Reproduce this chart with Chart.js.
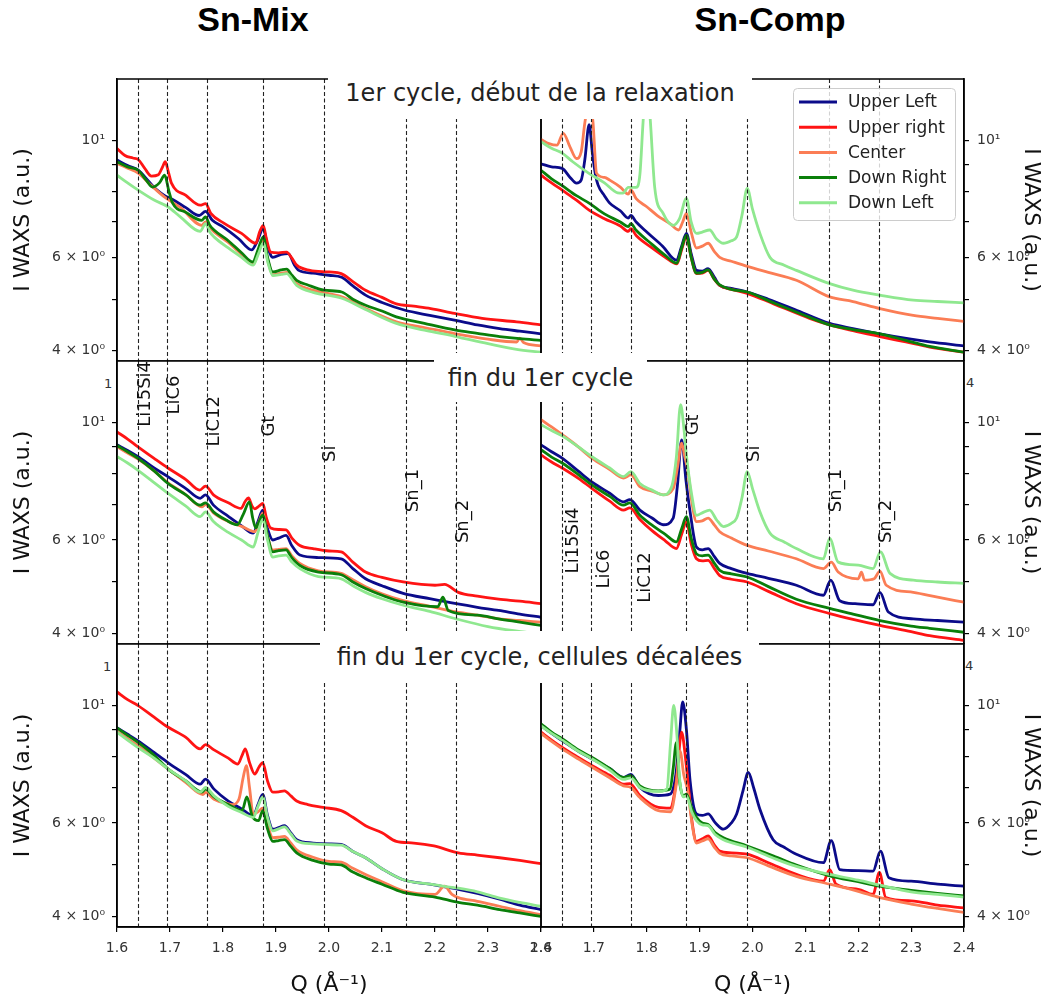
<!DOCTYPE html>
<html>
<head>
<meta charset="utf-8">
<script src="https://cdn.jsdelivr.net/npm/chart.js@4.4.1/dist/chart.umd.min.js"></script>
<style>
  body { margin: 0; background: #fff; width: 1044px; height: 999px; position: relative; overflow: hidden; }
  .head { position: absolute; top: 0; height: 46px; line-height: 46px; font: bold 34px "Liberation Sans", Arial, sans-serif; color: #000; text-align: center; }
  .ttl { position: absolute; background: #fff; z-index: 10; display: flex; align-items: center; justify-content: center;
         font: 24px "DejaVu Sans", sans-serif; color: #222; white-space: nowrap; }
  .bit { position: absolute; font: 13px "DejaVu Sans", sans-serif; color: #333; }
</style>
</head>
<body>
<div class="head" style="left:153px;width:200px">Sn-Mix</div>
<div class="head" style="left:660px;width:220px">Sn-Comp</div>
<div class="ttl" style="left:328px;top:66px;width:424px;height:53px">1er cycle, début de la relaxation</div>
<div class="ttl" style="left:434px;top:353px;width:213px;height:49px">fin du 1er cycle</div>
<div class="ttl" style="left:320px;top:631px;width:439px;height:52px">fin du 1er cycle, cellules décalées</div>
<div class="bit" style="left:104px;top:376px">1</div>
<div class="bit" style="left:966px;top:375px">4</div>
<div class="bit" style="left:103px;top:659px">1</div>
<div class="bit" style="left:965px;top:658px">4</div>

<script>
// series names and peak markers
const seriesNames = ["Upper Left", "Upper right", "Center", "Down Right", "Down Left"];
const seriesColors = ["#0b0b8a", "#ff1414", "#fb7d55", "#0a7f0a", "#8fe88f"];

const peakNames = ["Li15Si4", "LiC6", "LiC12", "Gt", "Si", "Sn_1", "Sn_2"];
const peakQ = [1.64, 1.695, 1.77, 1.875, 1.99, 2.145, 2.24];
// where the rotated peak names sit (Q of the text, intensity at the text foot)
const labelQMix = [1.64, 1.695, 1.77, 1.875, 1.99, 2.145, 2.24];
const labelIMix = [9.81, 10.34, 9.0, 9.4, 8.42, 6.77, 5.92];
const labelQComp = [1.647, 1.706, 1.785, 1.875, 1.99, 2.145, 2.24];
const labelIComp = [5.19, 4.86, 4.57, 9.45, 8.42, 6.77, 5.92];

const xTicks = [1.6, 1.7, 1.8, 1.9, 2.0, 2.1, 2.2, 2.3, 2.4];
const yTicks = [4, 5, 6, 7, 8, 9, 10];
const yTickText = { 4: "4 × 10⁰", 6: "6 × 10⁰", 10: "10¹" };

// ---- Sn-Mix, 1er cycle, debut de la relaxation
const mixA_UL = [[1.6,9.17],[1.62,8.95],[1.64,8.77],[1.66,8.35],[1.675,8.05],[1.69,7.85],[1.705,7.72],[1.73,7.45],[1.755,7.2],[1.767,7.33],[1.78,7.05],[1.8,6.85],[1.83,6.5],[1.854,6.2],[1.865,6.45],[1.876,6.81],[1.884,6.3],[1.894,6.0],[1.91,6.08],[1.923,6.1],[1.935,5.8],[1.943,5.67],[1.97,5.6],[2.0,5.55],[2.024,5.5],[2.045,5.3],[2.069,5.09],[2.1,4.93],[2.142,4.77],[2.19,4.66],[2.239,4.56],[2.28,4.47],[2.322,4.4],[2.36,4.35],[2.4,4.3]];
const mixA_UR = [[1.6,9.64],[1.615,9.35],[1.63,9.25],[1.64,9.19],[1.652,8.85],[1.665,8.55],[1.678,8.6],[1.686,8.9],[1.691,9.1],[1.697,8.7],[1.703,8.28],[1.73,7.86],[1.757,7.53],[1.767,7.58],[1.777,7.27],[1.803,6.95],[1.835,6.66],[1.862,6.38],[1.869,6.7],[1.876,6.9],[1.882,6.5],[1.89,6.14],[1.905,6.12],[1.92,6.14],[1.93,5.98],[1.939,5.8],[1.964,5.67],[2.0,5.63],[2.023,5.59],[2.045,5.4],[2.069,5.2],[2.1,5.04],[2.127,4.9],[2.16,4.85],[2.192,4.8],[2.237,4.7],[2.289,4.6],[2.354,4.53],[2.4,4.47]];
const mixA_C = [[1.6,9.03],[1.62,8.85],[1.64,8.66],[1.665,8.2],[1.69,7.8],[1.72,7.45],[1.76,6.9],[1.767,7.0],[1.78,6.75],[1.81,6.4],[1.835,6.08],[1.857,5.83],[1.867,6.15],[1.876,6.47],[1.885,5.9],[1.894,5.56],[1.91,5.6],[1.92,5.62],[1.939,5.35],[1.97,5.2],[2.024,5.05],[2.069,4.8],[2.127,4.53],[2.18,4.42],[2.239,4.3],[2.3,4.2],[2.354,4.15],[2.36,4.22],[2.367,4.14],[2.4,4.08]];
const mixA_DR = [[1.6,9.1],[1.62,8.9],[1.64,8.77],[1.655,8.4],[1.667,8.15],[1.68,8.3],[1.69,8.58],[1.698,8.0],[1.705,7.6],[1.73,7.3],[1.76,7.05],[1.767,7.16],[1.775,6.9],[1.783,6.76],[1.81,6.45],[1.835,6.12],[1.856,5.88],[1.866,6.2],[1.876,6.56],[1.884,6.0],[1.894,5.63],[1.91,5.68],[1.92,5.7],[1.93,5.55],[1.939,5.43],[1.96,5.32],[1.991,5.2],[2.024,5.16],[2.045,5.0],[2.069,4.87],[2.1,4.75],[2.127,4.63],[2.18,4.5],[2.239,4.37],[2.28,4.31],[2.322,4.25],[2.36,4.21],[2.4,4.18]];
const mixA_DL = [[1.6,8.58],[1.62,8.3],[1.64,8.04],[1.67,7.7],[1.696,7.48],[1.72,7.15],[1.757,6.72],[1.767,6.95],[1.775,6.7],[1.783,6.56],[1.81,6.25],[1.835,6.0],[1.857,5.8],[1.867,6.1],[1.876,6.38],[1.885,5.85],[1.894,5.54],[1.91,5.57],[1.92,5.59],[1.939,5.31],[1.97,5.15],[2.024,5.02],[2.069,4.78],[2.127,4.5],[2.18,4.37],[2.239,4.25],[2.3,4.12],[2.354,4.02],[2.4,3.97]];

// ---- Sn-Comp, 1er cycle, debut de la relaxation
const compA_UL = [[1.6,9.02],[1.62,8.9],[1.64,8.84],[1.655,8.5],[1.667,8.29],[1.676,8.4],[1.683,9.2],[1.691,10.7],[1.697,9.5],[1.703,8.6],[1.708,8.22],[1.72,7.85],[1.73,7.6],[1.75,7.35],[1.765,7.12],[1.77,7.2],[1.78,7.0],[1.8,6.7],[1.83,6.3],[1.856,5.93],[1.866,6.3],[1.875,6.66],[1.884,6.1],[1.894,5.67],[1.905,5.65],[1.916,5.71],[1.928,5.5],[1.938,5.31],[1.96,5.24],[1.99,5.16],[2.03,5.0],[2.08,4.78],[2.146,4.5],[2.19,4.4],[2.241,4.3],[2.3,4.2],[2.335,4.15],[2.4,4.08]];
const compA_UR = [[1.6,8.58],[1.62,8.3],[1.64,8.04],[1.667,7.7],[1.691,7.37],[1.72,7.1],[1.75,6.88],[1.765,6.72],[1.77,6.8],[1.78,6.6],[1.81,6.25],[1.835,6.0],[1.857,5.83],[1.866,6.2],[1.875,6.56],[1.884,6.0],[1.894,5.59],[1.905,5.6],[1.916,5.67],[1.928,5.45],[1.938,5.31],[1.96,5.22],[1.99,5.13],[2.04,4.9],[2.108,4.6],[2.146,4.47],[2.19,4.36],[2.241,4.25],[2.29,4.15],[2.335,4.06],[2.4,3.97]];
const compA_C = [[1.6,10.03],[1.615,9.85],[1.63,9.78],[1.642,10.3],[1.655,9.7],[1.667,9.23],[1.676,9.5],[1.683,10.8],[1.69,11.6],[1.698,10.9],[1.705,8.66],[1.72,8.5],[1.73,8.4],[1.75,8.15],[1.765,7.9],[1.77,8.05],[1.78,7.75],[1.8,7.48],[1.82,7.2],[1.844,6.95],[1.86,6.76],[1.868,7.0],[1.875,7.27],[1.884,6.7],[1.894,6.25],[1.905,6.3],[1.916,6.38],[1.928,6.15],[1.938,6.0],[1.96,5.9],[1.99,5.77],[2.03,5.62],[2.083,5.43],[2.146,5.05],[2.19,4.95],[2.241,4.8],[2.304,4.66],[2.35,4.6],[2.4,4.54]];
const compA_DR = [[1.6,8.77],[1.62,8.45],[1.64,8.2],[1.667,7.85],[1.691,7.6],[1.72,7.25],[1.75,7.0],[1.765,6.86],[1.77,6.95],[1.78,6.75],[1.81,6.35],[1.835,6.05],[1.857,5.85],[1.866,6.25],[1.875,6.6],[1.884,6.0],[1.894,5.6],[1.905,5.62],[1.916,5.68],[1.928,5.45],[1.938,5.32],[1.96,5.22],[1.99,5.16],[2.04,4.92],[2.108,4.62],[2.146,4.47],[2.19,4.38],[2.241,4.3],[2.29,4.18],[2.335,4.07],[2.4,3.97]];
const compA_DL = [[1.6,9.93],[1.62,9.65],[1.64,9.45],[1.66,9.1],[1.69,8.66],[1.72,8.3],[1.745,7.95],[1.755,7.94],[1.765,8.14],[1.78,8.14],[1.787,8.6],[1.793,10.8],[1.8,13.5],[1.807,10.8],[1.815,8.15],[1.831,7.27],[1.85,6.9],[1.862,7.1],[1.875,7.76],[1.884,7.0],[1.894,6.66],[1.905,6.7],[1.919,6.76],[1.932,6.5],[1.945,6.38],[1.96,6.45],[1.97,6.56],[1.98,7.2],[1.99,8.1],[2.0,7.4],[2.014,6.66],[2.033,6.0],[2.06,5.8],[2.083,5.67],[2.146,5.35],[2.19,5.2],[2.241,5.09],[2.304,4.98],[2.35,4.95],[2.4,4.92]];

// ---- Sn-Mix, fin du 1er cycle
const mixB_UL = [[1.6,9.07],[1.62,8.85],[1.639,8.62],[1.67,8.2],[1.696,7.9],[1.73,7.5],[1.757,7.19],[1.767,7.3],[1.782,6.98],[1.81,6.65],[1.835,6.38],[1.857,6.18],[1.866,6.5],[1.875,6.83],[1.884,6.3],[1.894,6.0],[1.905,6.05],[1.919,6.12],[1.93,5.85],[1.945,5.62],[1.98,5.56],[2.023,5.53],[2.045,5.3],[2.069,5.07],[2.1,4.92],[2.14,4.76],[2.19,4.65],[2.24,4.55],[2.28,4.48],[2.32,4.42],[2.36,4.35],[2.4,4.29]];
const mixB_UR = [[1.6,9.59],[1.62,9.3],[1.639,9.0],[1.67,8.55],[1.696,8.2],[1.73,7.8],[1.756,7.45],[1.767,7.58],[1.782,7.3],[1.81,7.05],[1.834,6.88],[1.842,7.1],[1.848,7.2],[1.855,6.95],[1.86,6.87],[1.868,6.95],[1.875,7.03],[1.882,6.6],[1.89,6.32],[1.905,6.28],[1.919,6.27],[1.93,6.05],[1.945,5.86],[1.97,5.78],[2.0,5.72],[2.023,5.7],[2.045,5.45],[2.069,5.22],[2.1,5.1],[2.14,5.0],[2.2,4.93],[2.218,4.95],[2.244,4.78],[2.28,4.7],[2.32,4.64],[2.36,4.6],[2.4,4.55]];
const mixB_C = [[1.6,9.0],[1.62,8.75],[1.639,8.53],[1.67,8.1],[1.696,7.7],[1.73,7.3],[1.76,6.93],[1.767,7.0],[1.782,6.75],[1.81,6.5],[1.836,6.36],[1.86,6.22],[1.868,6.5],[1.875,6.74],[1.884,6.1],[1.894,5.74],[1.905,5.76],[1.919,5.78],[1.93,5.6],[1.945,5.42],[1.98,5.25],[2.023,5.19],[2.045,5.05],[2.069,4.9],[2.1,4.75],[2.14,4.61],[2.19,4.5],[2.24,4.39],[2.28,4.33],[2.32,4.26],[2.36,4.23],[2.4,4.2]];
const mixB_DR = [[1.6,9.04],[1.62,8.8],[1.639,8.56],[1.67,8.1],[1.696,7.67],[1.73,7.3],[1.757,6.98],[1.767,7.05],[1.782,6.78],[1.805,6.55],[1.827,6.41],[1.838,6.7],[1.85,7.08],[1.856,6.6],[1.862,6.32],[1.868,6.5],[1.875,6.68],[1.884,6.1],[1.894,5.7],[1.905,5.73],[1.919,5.75],[1.93,5.55],[1.945,5.37],[1.98,5.22],[2.023,5.16],[2.045,5.0],[2.069,4.86],[2.1,4.72],[2.14,4.58],[2.205,4.49],[2.215,4.68],[2.225,4.42],[2.28,4.33],[2.32,4.26],[2.36,4.2],[2.4,4.14]];
const mixB_DL = [[1.6,8.62],[1.62,8.38],[1.639,8.13],[1.67,7.7],[1.696,7.35],[1.73,6.95],[1.757,6.64],[1.767,6.78],[1.782,6.5],[1.81,6.2],[1.835,6.0],[1.857,5.82],[1.866,6.2],[1.875,6.56],[1.884,6.0],[1.894,5.57],[1.905,5.6],[1.919,5.62],[1.93,5.45],[1.945,5.3],[1.98,5.12],[2.023,5.07],[2.045,4.92],[2.069,4.78],[2.1,4.65],[2.14,4.52],[2.19,4.4],[2.24,4.26],[2.3,4.12],[2.37,4.02],[2.4,3.98]];

// ---- Sn-Comp, fin du 1er cycle
const compB_UL = [[1.6,9.07],[1.62,8.8],[1.64,8.56],[1.67,8.1],[1.696,7.72],[1.73,7.35],[1.756,7.08],[1.768,7.15],[1.787,6.83],[1.81,6.6],[1.831,6.41],[1.85,6.6],[1.858,7.6],[1.866,9.27],[1.874,7.8],[1.882,6.78],[1.894,5.82],[1.905,5.75],[1.916,5.78],[1.928,5.58],[1.938,5.42],[1.96,5.3],[1.99,5.19],[2.03,5.08],[2.083,4.93],[2.134,4.72],[2.148,5.04],[2.165,4.61],[2.194,4.55],[2.228,4.53],[2.241,4.78],[2.257,4.39],[2.304,4.26],[2.35,4.23],[2.4,4.2]];
const compB_UR = [[1.6,8.68],[1.62,8.42],[1.64,8.2],[1.67,7.85],[1.696,7.51],[1.73,7.1],[1.756,6.83],[1.768,6.9],[1.787,6.56],[1.81,6.25],[1.835,5.98],[1.856,5.78],[1.866,6.15],[1.875,6.5],[1.884,5.9],[1.894,5.53],[1.905,5.48],[1.916,5.49],[1.928,5.3],[1.938,5.14],[1.96,5.06],[1.99,5.0],[2.03,4.8],[2.083,4.55],[2.146,4.36],[2.19,4.25],[2.241,4.14],[2.3,4.03],[2.335,3.96],[2.4,3.88]];
const compB_C = [[1.6,10.12],[1.62,9.8],[1.64,9.48],[1.67,9.0],[1.696,8.56],[1.73,8.15],[1.756,7.85],[1.77,7.96],[1.787,7.56],[1.81,7.42],[1.831,7.3],[1.85,7.5],[1.858,8.2],[1.866,9.14],[1.872,8.6],[1.878,8.07],[1.886,7.0],[1.894,6.5],[1.905,6.52],[1.916,6.6],[1.928,6.4],[1.938,6.22],[1.96,6.05],[1.99,5.86],[2.03,5.72],[2.083,5.53],[2.134,5.3],[2.149,5.45],[2.162,5.22],[2.2,5.07],[2.206,5.22],[2.212,5.04],[2.23,5.07],[2.241,5.24],[2.253,4.93],[2.304,4.78],[2.35,4.68],[2.4,4.58]];
const compB_DR = [[1.6,8.88],[1.62,8.6],[1.64,8.38],[1.67,7.98],[1.696,7.62],[1.73,7.25],[1.756,6.98],[1.768,7.05],[1.787,6.68],[1.81,6.4],[1.835,6.15],[1.856,5.95],[1.866,6.3],[1.875,6.64],[1.884,6.05],[1.894,5.65],[1.905,5.6],[1.916,5.62],[1.928,5.42],[1.938,5.26],[1.96,5.18],[1.99,5.11],[2.03,4.9],[2.083,4.64],[2.146,4.46],[2.19,4.35],[2.241,4.23],[2.3,4.13],[2.335,4.09],[2.4,4.02]];
const compB_DL = [[1.6,9.9],[1.62,9.65],[1.64,9.43],[1.67,9.0],[1.696,8.62],[1.73,8.2],[1.756,7.9],[1.77,8.07],[1.787,7.67],[1.81,7.45],[1.831,7.3],[1.847,7.56],[1.856,8.6],[1.864,10.8],[1.87,9.8],[1.875,8.68],[1.885,7.3],[1.894,6.68],[1.905,6.75],[1.919,6.83],[1.932,6.55],[1.945,6.36],[1.96,6.45],[1.97,6.6],[1.98,7.2],[1.99,8.07],[2.0,7.5],[2.014,6.78],[2.033,6.18],[2.06,5.95],[2.083,5.78],[2.134,5.53],[2.146,6.04],[2.162,5.45],[2.2,5.38],[2.228,5.3],[2.242,5.7],[2.26,5.19],[2.304,5.04],[2.35,5.0],[2.4,4.97]];

// ---- Sn-Mix, fin du 1er cycle, cellules decalees
const mixC_UL = [[1.6,9.07],[1.62,8.82],[1.639,8.58],[1.67,8.15],[1.696,7.8],[1.73,7.4],[1.757,7.1],[1.767,7.26],[1.783,6.95],[1.81,6.6],[1.835,6.38],[1.857,6.19],[1.866,6.5],[1.875,6.79],[1.884,6.2],[1.894,5.84],[1.905,5.88],[1.916,5.93],[1.928,5.75],[1.939,5.58],[1.97,5.5],[2.0,5.48],[2.023,5.47],[2.045,5.3],[2.069,5.16],[2.1,4.92],[2.14,4.69],[2.19,4.6],[2.244,4.5],[2.28,4.42],[2.322,4.31],[2.36,4.2],[2.4,4.12]];
const mixC_UR = [[1.6,10.6],[1.62,10.25],[1.639,10.0],[1.67,9.5],[1.696,9.1],[1.73,8.7],[1.757,8.28],[1.767,8.43],[1.783,8.24],[1.81,7.95],[1.828,7.75],[1.836,8.05],[1.842,8.28],[1.85,7.8],[1.86,7.42],[1.868,7.65],[1.875,7.8],[1.884,7.2],[1.894,6.86],[1.905,6.87],[1.916,6.9],[1.928,6.75],[1.939,6.6],[1.96,6.5],[1.989,6.42],[2.023,6.33],[2.045,6.15],[2.069,5.93],[2.1,5.75],[2.127,5.54],[2.16,5.5],[2.198,5.43],[2.244,5.27],[2.28,5.22],[2.322,5.16],[2.36,5.1],[2.4,5.03]];
const mixC_C = [[1.6,8.94],[1.62,8.65],[1.639,8.4],[1.67,7.95],[1.696,7.59],[1.73,7.15],[1.762,6.79],[1.767,6.85],[1.783,6.65],[1.81,6.52],[1.818,6.5],[1.83,6.65],[1.838,7.3],[1.844,7.7],[1.85,7.0],[1.857,6.24],[1.866,6.3],[1.875,6.4],[1.884,5.95],[1.894,5.63],[1.905,5.64],[1.916,5.66],[1.928,5.5],[1.939,5.34],[1.97,5.17],[2.0,5.08],[2.023,5.06],[2.045,4.93],[2.069,4.8],[2.1,4.65],[2.14,4.47],[2.2,4.4],[2.218,4.56],[2.232,4.4],[2.244,4.34],[2.28,4.27],[2.322,4.18],[2.36,4.1],[2.4,4.03]];
const mixC_DR = [[1.6,9.07],[1.62,8.78],[1.639,8.52],[1.67,8.05],[1.696,7.59],[1.73,7.2],[1.76,6.86],[1.767,6.95],[1.783,6.72],[1.81,6.5],[1.836,6.33],[1.845,6.72],[1.855,6.19],[1.867,6.06],[1.875,6.33],[1.884,5.85],[1.894,5.54],[1.905,5.56],[1.916,5.58],[1.928,5.42],[1.939,5.27],[1.97,5.1],[2.0,5.02],[2.023,5.0],[2.045,4.85],[2.069,4.73],[2.1,4.6],[2.14,4.44],[2.2,4.35],[2.244,4.25],[2.28,4.2],[2.322,4.12],[2.36,4.06],[2.4,4.0]];
const mixC_DL = [[1.6,8.9],[1.62,8.6],[1.639,8.33],[1.67,7.95],[1.696,7.59],[1.73,7.2],[1.757,6.86],[1.767,7.0],[1.783,6.75],[1.81,6.45],[1.835,6.28],[1.857,6.15],[1.866,6.45],[1.875,6.72],[1.884,6.15],[1.894,5.8],[1.905,5.85],[1.916,5.9],[1.928,5.72],[1.939,5.55],[1.97,5.48],[2.0,5.46],[2.023,5.45],[2.045,5.3],[2.069,5.16],[2.1,4.92],[2.14,4.69],[2.19,4.6],[2.244,4.52],[2.28,4.45],[2.322,4.33],[2.36,4.25],[2.4,4.18]];

// ---- Sn-Comp, fin du 1er cycle, cellules decalees
const compC_UL = [[1.6,9.17],[1.62,8.85],[1.64,8.58],[1.67,8.2],[1.696,7.93],[1.73,7.6],[1.756,7.31],[1.77,7.41],[1.787,7.0],[1.822,6.76],[1.844,6.8],[1.855,7.4],[1.862,8.8],[1.868,10.15],[1.875,9.0],[1.882,7.2],[1.894,6.24],[1.905,6.2],[1.916,6.24],[1.93,6.0],[1.945,5.84],[1.96,6.0],[1.97,6.24],[1.982,6.9],[1.992,7.47],[2.002,7.0],[2.014,6.37],[2.039,5.58],[2.06,5.4],[2.083,5.24],[2.134,5.05],[2.149,5.56],[2.165,4.9],[2.2,4.88],[2.228,4.87],[2.242,5.31],[2.258,4.73],[2.3,4.66],[2.35,4.6],[2.4,4.56]];
const compC_UR = [[1.6,8.9],[1.62,8.6],[1.64,8.33],[1.67,7.98],[1.696,7.7],[1.73,7.38],[1.756,7.1],[1.768,7.12],[1.787,6.76],[1.822,6.42],[1.844,6.4],[1.856,7.2],[1.866,8.9],[1.873,8.0],[1.879,7.0],[1.886,6.0],[1.894,5.54],[1.905,5.6],[1.916,5.67],[1.928,5.45],[1.938,5.31],[1.96,5.27],[1.99,5.24],[2.03,5.05],[2.083,4.8],[2.134,4.66],[2.146,4.9],[2.158,4.6],[2.2,4.5],[2.228,4.4],[2.24,4.84],[2.252,4.34],[2.3,4.28],[2.35,4.2],[2.4,4.15]];
const compC_C = [[1.6,8.85],[1.62,8.55],[1.64,8.28],[1.67,7.93],[1.696,7.65],[1.73,7.3],[1.756,7.05],[1.77,7.0],[1.787,6.7],[1.822,6.33],[1.845,6.3],[1.855,7.0],[1.863,8.2],[1.87,7.4],[1.877,6.94],[1.886,5.95],[1.894,5.5],[1.905,5.55],[1.916,5.6],[1.928,5.4],[1.938,5.26],[1.96,5.2],[1.99,5.16],[2.03,4.98],[2.083,4.76],[2.146,4.6],[2.2,4.46],[2.241,4.34],[2.3,4.22],[2.35,4.14],[2.4,4.07]];
const compC_DR = [[1.6,9.23],[1.62,8.9],[1.64,8.65],[1.67,8.25],[1.696,7.98],[1.73,7.6],[1.756,7.31],[1.77,7.37],[1.787,7.05],[1.822,6.9],[1.844,6.95],[1.85,7.6],[1.856,8.5],[1.862,7.2],[1.869,6.75],[1.875,6.8],[1.885,6.4],[1.894,6.15],[1.905,6.0],[1.916,5.96],[1.93,5.75],[1.945,5.63],[1.99,5.43],[2.04,5.2],[2.083,5.0],[2.146,4.77],[2.2,4.65],[2.241,4.56],[2.3,4.48],[2.35,4.42],[2.4,4.37]];
const compC_DL = [[1.6,9.15],[1.62,8.85],[1.64,8.6],[1.67,8.2],[1.696,7.93],[1.73,7.55],[1.756,7.25],[1.77,7.3],[1.787,7.0],[1.822,6.88],[1.838,6.95],[1.845,8.5],[1.851,10.0],[1.857,8.8],[1.862,7.3],[1.869,6.72],[1.875,6.75],[1.885,6.3],[1.894,6.06],[1.905,5.95],[1.916,5.93],[1.93,5.7],[1.945,5.58],[1.99,5.4],[2.04,5.15],[2.083,4.97],[2.146,4.8],[2.2,4.68],[2.241,4.58],[2.3,4.45],[2.35,4.4],[2.4,4.35]];

// layout of the six axes (page pixels of each row's plot area)
const rowsPx = [[79, 361], [361, 644], [644, 927]];
const FONT = '"DejaVu Sans", sans-serif';

// frame around plot area (spines)
const framePlugin = {
  id: "frame",
  afterDraw(chart) {
    const { ctx, chartArea: a } = chart;
    ctx.save();
    ctx.strokeStyle = "#000";
    ctx.lineWidth = 1.5;
    ctx.strokeRect(a.left, a.top, a.right - a.left, a.bottom - a.top);
    ctx.restore();
  }
};

// dashed vertical lines at the reflections
const peakLinePlugin = {
  id: "peakLines",
  afterDatasetsDraw(chart) {
    const { ctx, chartArea: a } = chart;
    const x = chart.scales.x;
    ctx.save();
    ctx.beginPath();
    ctx.rect(a.left, a.top, a.right - a.left, a.bottom - a.top);
    ctx.clip();
    ctx.setLineDash([4, 2.5]);
    ctx.strokeStyle = "#222";
    ctx.lineWidth = 1.1;
    peakQ.forEach(q => {
      const px = Math.round(x.getPixelForValue(q)) + 0.5;
      ctx.beginPath();
      ctx.moveTo(px, a.top);
      ctx.lineTo(px, a.bottom);
      ctx.stroke();
    });
    ctx.restore();
  }
};

function nameLabels(qs, vals) {
  return {
    id: "peakNames",
    afterDraw(chart) {
      const { ctx } = chart;
      const x = chart.scales.x, y = chart.scales.y;
      ctx.save();
      ctx.font = "18px " + FONT;
      ctx.fillStyle = "#111";
      ctx.textAlign = "left";
      ctx.textBaseline = "top";
      peakNames.forEach((t, i) => {
        const px = x.getPixelForValue(qs[i]) - 2;
        const py = y.getPixelForValue(vals[i]);
        ctx.save();
        ctx.translate(px, py);
        ctx.rotate(-Math.PI / 2);
        ctx.fillText(t, 0, 0);
        ctx.restore();
      });
      ctx.restore();
    }
  };
}

// legend box in the upper right axes
const legendPlugin = {
  id: "boxLegend",
  afterDraw(chart) {
    const { ctx, chartArea: a } = chart;
    const bx = a.right - 171, by = a.top + 9, bw = 162, bh = 132;
    ctx.save();
    ctx.fillStyle = "rgba(255,255,255,0.8)";
    ctx.strokeStyle = "#cccccc";
    ctx.lineWidth = 1;
    ctx.beginPath();
    ctx.roundRect(bx + 0.5, by + 0.5, bw, bh, 4);
    ctx.fill();
    ctx.stroke();
    ctx.font = "17px " + FONT;
    ctx.textBaseline = "middle";
    chart.data.datasets.forEach((ds, i) => {
      const yy = by + 14 + i * 25.2;
      ctx.strokeStyle = ds.borderColor;
      ctx.lineWidth = 3;
      ctx.beginPath();
      ctx.moveTo(bx + 6, yy);
      ctx.lineTo(bx + 44, yy);
      ctx.stroke();
      ctx.fillStyle = "#222";
      ctx.fillText(ds.label, bx + 55, yy + 1);
    });
    ctx.restore();
  }
};

function makePanel(row, col, sets, extra) {
  const left = col === 0;
  const lastRow = row === 2;
  const top = rowsPx[row][0], bottom = rowsPx[row][1];
  const cTop = top - 8;
  const cHeight = (lastRow ? 999 : bottom) - cTop;
  const cLeft = left ? 0 : 520;
  const cWidth = left ? 561 : 524;

  const cv = document.createElement("canvas");
  cv.width = cWidth;
  cv.height = cHeight;
  cv.style.cssText = "position:absolute;left:" + cLeft + "px;top:" + cTop + "px;width:" + cWidth + "px;height:" + cHeight + "px";
  document.body.appendChild(cv);

  return new Chart(cv, {
    type: "line",
    data: {
      datasets: sets.map((d, i) => ({
        label: seriesNames[i],
        data: d.map(p => ({ x: p[0], y: p[1] })),
        borderColor: seriesColors[i],
        borderWidth: 2.8,
        borderJoinStyle: "round",
        borderCapStyle: "round",
        cubicInterpolationMode: "monotone",
        pointRadius: 0,
        fill: false,
        order: sets.length - i
      }))
    },
    options: {
      responsive: false,
      animation: false,
      events: [],
      layout: { padding: { top: 8, bottom: 0, left: left ? 0 : 21, right: left ? 20 : 0 }, autoPadding: false },
      plugins: { legend: { display: false }, tooltip: { enabled: false } },
      scales: {
        x: {
          type: "linear",
          min: 1.6,
          max: 2.4,
          display: lastRow,
          position: "bottom",
          afterBuildTicks: s => { s.ticks = xTicks.map(v => ({ value: v })); },
          afterFit: s => { s.height = lastRow ? 72 : 0; s.paddingLeft = 0; s.paddingRight = 0; },
          ticks: {
            callback: v => v.toFixed(1),
            font: { family: FONT, size: 14 },
            color: "#333",
            padding: 8,
            maxRotation: 0,
            autoSkip: false
          },
          grid: { drawOnChartArea: false, tickLength: 5, color: "#000", lineWidth: 1.2 },
          border: { color: "#000", width: 1.5 },
          title: { display: true, text: "Q (Å⁻¹)", font: { family: FONT, size: 22 }, color: "#111", padding: { top: 0, bottom: 1 } }
        },
        y: {
          type: "logarithmic",
          position: left ? "left" : "right",
          min: 3.82,
          max: 13.05,
          afterBuildTicks: s => { s.ticks = yTicks.map(v => ({ value: v })); },
          afterFit: s => { s.width = left ? 117 : 80; s.paddingTop = 0; s.paddingBottom = 0; },
          ticks: {
            callback: v => yTickText[v] || "",
            font: { family: FONT, size: 14 },
            color: "#333",
            padding: left ? 7 : 8,
            autoSkip: false
          },
          grid: { drawOnChartArea: false, tickLength: 5, color: "#000", lineWidth: 1.2 },
          border: { color: "#000", width: 1.5 },
          title: { display: true, text: "I WAXS (a.u.)", font: { family: FONT, size: 22 }, color: "#111", padding: { top: left ? 10 : 0, bottom: 0 } }
        }
      }
    },
    plugins: [peakLinePlugin, framePlugin].concat(extra || [])
  });
}

makePanel(0, 0, [mixA_UL, mixA_UR, mixA_C, mixA_DR, mixA_DL]);
makePanel(0, 1, [compA_UL, compA_UR, compA_C, compA_DR, compA_DL], [legendPlugin]);
makePanel(1, 0, [mixB_UL, mixB_UR, mixB_C, mixB_DR, mixB_DL], [nameLabels(labelQMix, labelIMix)]);
makePanel(1, 1, [compB_UL, compB_UR, compB_C, compB_DR, compB_DL], [nameLabels(labelQComp, labelIComp)]);
makePanel(2, 0, [mixC_UL, mixC_UR, mixC_C, mixC_DR, mixC_DL]);
makePanel(2, 1, [compC_UL, compC_UR, compC_C, compC_DR, compC_DL]);
</script>
</body>
</html>
